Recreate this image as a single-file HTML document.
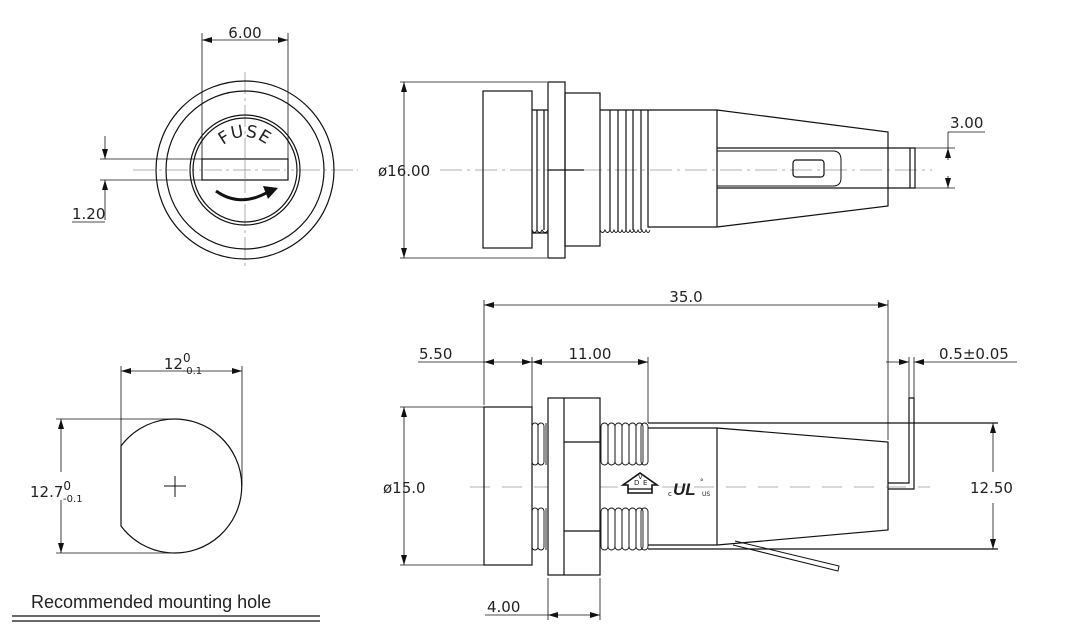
<!DOCTYPE html>
<html><head><meta charset="utf-8"><style>
html,body{margin:0;padding:0;background:#fff;}
svg{display:block;}
text{font-family:"DejaVu Sans","Liberation Sans",sans-serif;fill:#222;}
</style></head><body>
<svg width="1083" height="642" viewBox="0 0 1083 642" xmlns="http://www.w3.org/2000/svg">
<defs>
<marker id="a" viewBox="0 0 10 6" refX="10" refY="3" markerWidth="10" markerHeight="6" orient="auto-start-reverse" markerUnits="userSpaceOnUse"><path d="M0,0 L10,3 L0,6 z" fill="#111"/></marker>
</defs>
<g fill="none" stroke="#111" stroke-width="1.2">
<g stroke="#999" stroke-width="0.8" stroke-dasharray="22,4,3,4">
<line x1="133" y1="170" x2="358" y2="170"/>
<line x1="245" y1="72" x2="245" y2="268"/>
</g>
<circle cx="245" cy="170" r="89"/>
<circle cx="245" cy="170" r="79"/>
<circle cx="245" cy="170" r="55"/>
<circle cx="245" cy="170" r="52"/>
<rect x="202" y="159" width="86" height="21" fill="#fff"/>
<line x1="245" y1="159" x2="245" y2="180" stroke="#999" stroke-width="0.8"/>
<line x1="204" y1="170" x2="286" y2="170" stroke="#999" stroke-width="0.8" stroke-dasharray="18,4,3,4"/>
<path d="M216,191 Q240,208 268,192" stroke-width="3"/>
<path d="M263,186 L278,188 L268,199 z" fill="#111" stroke="none"/>
<line x1="202" y1="33" x2="202" y2="159" stroke-width="0.8"/>
<line x1="288" y1="33" x2="288" y2="159" stroke-width="0.8"/>
<line x1="202" y1="40" x2="288" y2="40" stroke-width="0.8" marker-start="url(#a)" marker-end="url(#a)"/>
<line x1="100" y1="159" x2="202" y2="159" stroke-width="0.8"/>
<line x1="100" y1="180" x2="202" y2="180" stroke-width="0.8"/>
<line x1="105" y1="136" x2="105" y2="159" stroke-width="0.8" marker-end="url(#a)"/>
<line x1="105" y1="220" x2="105" y2="180" stroke-width="0.8" marker-end="url(#a)"/>
<line x1="72" y1="222" x2="105" y2="222" stroke-width="0.8"/>

<line x1="440" y1="170" x2="932" y2="170" stroke="#999" stroke-width="0.8" stroke-dasharray="22,5,3,5"/>
<line x1="400" y1="82" x2="547" y2="82" stroke-width="0.8"/>
<line x1="400" y1="258" x2="547" y2="258" stroke-width="0.8"/>
<line x1="404" y1="82" x2="404" y2="258" stroke-width="0.8" marker-start="url(#a)" marker-end="url(#a)"/>
<rect x="483" y="91" width="49" height="157"/>
<path d="M532,110 H548 M532,233 H548 M537,110 V230 M544,110 V230"/>
<path d="M532,230 q2.5,5 5,0 q2.5,5 5,0 q3,5 6,0" stroke-width="0.9"/>
<rect x="548" y="82" width="17" height="176"/>
<rect x="565" y="93" width="35" height="153"/>
<line x1="548" y1="170" x2="584" y2="170"/>
<path d="M600,110 H717 M610,110 V230 M618,110 V230 M626,110 V230 M633,110 V230 M641,110 V230 M648,110 V227 H717"/>
<path d="M600,230 q2.5,5 5,0 q2.5,5 5,0 q2,5 4,0 q2,5 4,0 q2,5 4,0 q2,5 4,0 q2,5 4,0 q2,5 4,0 q2,5 4,0 q2,5 4,0 q2,5 4,0 q2,5 4,0" stroke-width="0.9"/>
<line x1="717" y1="110" x2="717" y2="227"/>
<path d="M717,110 L888,132 V206 L717,227"/>
<path d="M717,148 H888 M717,188 H888"/>
<path d="M717,151 H833 Q841,151 841,160 V178 Q841,186 833,186 H717" stroke-width="1"/>
<rect x="793" y="160" width="31" height="17" rx="3"/>
<path d="M888,148 H915 V188 H888 M910,148 V188"/>
<line x1="915" y1="148" x2="955" y2="148" stroke-width="0.8"/>
<line x1="915" y1="188" x2="955" y2="188" stroke-width="0.8"/>
<line x1="948" y1="132" x2="948" y2="148" stroke-width="0.8"/>
<line x1="948" y1="160" x2="948" y2="148" stroke-width="0.8" marker-end="url(#a)"/>
<line x1="948" y1="176" x2="948" y2="188" stroke-width="0.8" marker-end="url(#a)"/>
<line x1="948" y1="132" x2="985" y2="132" stroke-width="0.8"/>

<path d="M121,446 A67,67 0 1 1 121,526 Z"/>
<path d="M175,476 V497 M164,486 H186" stroke-width="1"/>
<line x1="121" y1="366" x2="121" y2="446" stroke-width="0.8"/>
<line x1="242" y1="366" x2="242" y2="486" stroke-width="0.8"/>
<line x1="121" y1="371" x2="242" y2="371" stroke-width="0.8" marker-start="url(#a)" marker-end="url(#a)"/>
<line x1="56" y1="419" x2="175" y2="419" stroke-width="0.8"/>
<line x1="56" y1="553" x2="175" y2="553" stroke-width="0.8"/>
<line x1="61" y1="419" x2="61" y2="472" stroke-width="0.8" marker-start="url(#a)"/>
<line x1="61" y1="500" x2="61" y2="553" stroke-width="0.8" marker-end="url(#a)"/>
<line x1="12" y1="616" x2="320" y2="616" stroke-width="1.2"/>
<line x1="12" y1="621" x2="320" y2="621" stroke-width="1.2"/>

<line x1="470" y1="487" x2="930" y2="487" stroke="#999" stroke-width="0.8" stroke-dasharray="20,12"/>
<line x1="484" y1="300" x2="484" y2="405" stroke-width="0.8"/>
<line x1="888" y1="300" x2="888" y2="440" stroke-width="0.8"/>
<line x1="484" y1="305" x2="888" y2="305" stroke-width="0.8" marker-start="url(#a)" marker-end="url(#a)"/>
<line x1="532" y1="357" x2="532" y2="407" stroke-width="0.8"/>
<line x1="648" y1="357" x2="648" y2="423" stroke-width="0.8"/>
<line x1="418" y1="362" x2="484" y2="362" stroke-width="0.8"/>
<line x1="484" y1="362" x2="532" y2="362" stroke-width="0.8" marker-start="url(#a)" marker-end="url(#a)"/>
<line x1="532" y1="362" x2="648" y2="362" stroke-width="0.8" marker-start="url(#a)" marker-end="url(#a)"/>
<line x1="909" y1="357" x2="909" y2="398" stroke-width="0.8"/>
<line x1="914" y1="357" x2="914" y2="398" stroke-width="0.8"/>
<line x1="886" y1="362" x2="909" y2="362" stroke-width="0.8" marker-end="url(#a)"/>
<line x1="1017" y1="362" x2="914" y2="362" stroke-width="0.8" marker-end="url(#a)"/>
<line x1="400" y1="407" x2="484" y2="407" stroke-width="0.8"/>
<line x1="400" y1="565" x2="484" y2="565" stroke-width="0.8"/>
<line x1="404" y1="407" x2="404" y2="565" stroke-width="0.8" marker-start="url(#a)" marker-end="url(#a)"/>
<rect x="484" y="407" width="48" height="158"/>
<g stroke-width="0.9">
<rect x="532" y="423" width="6" height="42" rx="3"/><rect x="538" y="423" width="6" height="42" rx="3"/><line x1="546" y1="423" x2="546" y2="465"/>
<rect x="532" y="508" width="6" height="42" rx="3"/><rect x="538" y="508" width="6" height="42" rx="3"/><line x1="546" y1="508" x2="546" y2="550"/>
<rect x="601" y="423" width="7" height="42" rx="3.5"/><rect x="608" y="423" width="7" height="42" rx="3.5"/><rect x="615" y="423" width="7" height="42" rx="3.5"/><rect x="622" y="423" width="7" height="42" rx="3.5"/><rect x="629" y="423" width="7" height="42" rx="3.5"/><rect x="636" y="423" width="7" height="42" rx="3.5"/><rect x="641" y="423" width="7" height="42" rx="3.5"/>
<rect x="601" y="508" width="7" height="42" rx="3.5"/><rect x="608" y="508" width="7" height="42" rx="3.5"/><rect x="615" y="508" width="7" height="42" rx="3.5"/><rect x="622" y="508" width="7" height="42" rx="3.5"/><rect x="629" y="508" width="7" height="42" rx="3.5"/><rect x="636" y="508" width="7" height="42" rx="3.5"/><rect x="641" y="508" width="7" height="42" rx="3.5"/>
</g>
<rect x="548" y="398" width="52" height="177" fill="#fff"/>
<path d="M564,398 V575 M564,442 H600 M564,531 H600"/>
<path d="M648,423 H998 M648,428 H717 M648,545 H717 M648,549 H998"/>
<path d="M717,428 V545 M717,428 L888,442 V530 L717,545"/>
<path d="M888,483 H909 V398 H914 V489 H888"/>
<path d="M735,541 L839,566 L838,571 L733,545" stroke-width="1"/>
<line x1="993" y1="423" x2="993" y2="472" stroke-width="0.8" marker-start="url(#a)"/>
<line x1="993" y1="503" x2="993" y2="549" stroke-width="0.8" marker-end="url(#a)"/>
<line x1="548" y1="578" x2="548" y2="620" stroke-width="0.8"/>
<line x1="600" y1="578" x2="600" y2="620" stroke-width="0.8"/>
<line x1="485" y1="615" x2="548" y2="615" stroke-width="0.8"/>
<line x1="548" y1="615" x2="600" y2="615" stroke-width="0.8" marker-start="url(#a)" marker-end="url(#a)"/>
<path d="M640,473 L623,485 L628,485 L628,493 L652,493 L652,485 L657,485 Z" stroke-width="1.6" fill="#fff"/>
<line x1="628" y1="489" x2="652" y2="489" stroke-width="1.2"/>
</g>
<text x="634" y="485" font-size="7">D</text><text x="638" y="479" font-size="7">V</text><text x="643" y="485" font-size="7">E</text>
<text x="668" y="496" font-size="7">c</text>
<text x="673" y="495" font-size="17" font-weight="bold" font-style="italic" style="font-family:'Liberation Sans',sans-serif" fill="#111">UL</text>
<text x="700" y="484" font-size="7">°</text>
<text x="702" y="496" font-size="6">US</text>

<text x="245" y="38" font-size="15" text-anchor="middle">6.00</text>
<text x="72" y="219" font-size="15">1.20</text>
<path id="fp" d="M212,170 A33,33 0 0 1 278,170" fill="none"/>
<text font-size="17" letter-spacing="1"><textPath href="#fp" startOffset="50%" text-anchor="middle">FUSE</textPath></text>
<text x="378" y="176" font-size="15">ø16.00</text>
<text x="950" y="128" font-size="15">3.00</text>
<text x="183" y="369" font-size="15" text-anchor="middle">12<tspan font-size="12" dy="-7">0</tspan><tspan font-size="10" dx="-8" dy="12">-0.1</tspan></text>
<text x="30" y="497" font-size="15">12.7<tspan font-size="12" dy="-7">0</tspan><tspan font-size="10" dx="-8" dy="12">-0.1</tspan></text>
<text x="31" y="608" font-size="18" style="font-family:'Liberation Sans',sans-serif">Recommended mounting hole</text>
<text x="686" y="302" font-size="15" text-anchor="middle">35.0</text>
<text x="419" y="359" font-size="15">5.50</text>
<text x="590" y="359" font-size="15" text-anchor="middle">11.00</text>
<text x="939" y="359" font-size="15">0.5±0.05</text>
<text x="383" y="493" font-size="15">ø15.0</text>
<text x="970" y="493" font-size="15">12.50</text>
<text x="487" y="612" font-size="15">4.00</text>
</svg>
</body></html>
